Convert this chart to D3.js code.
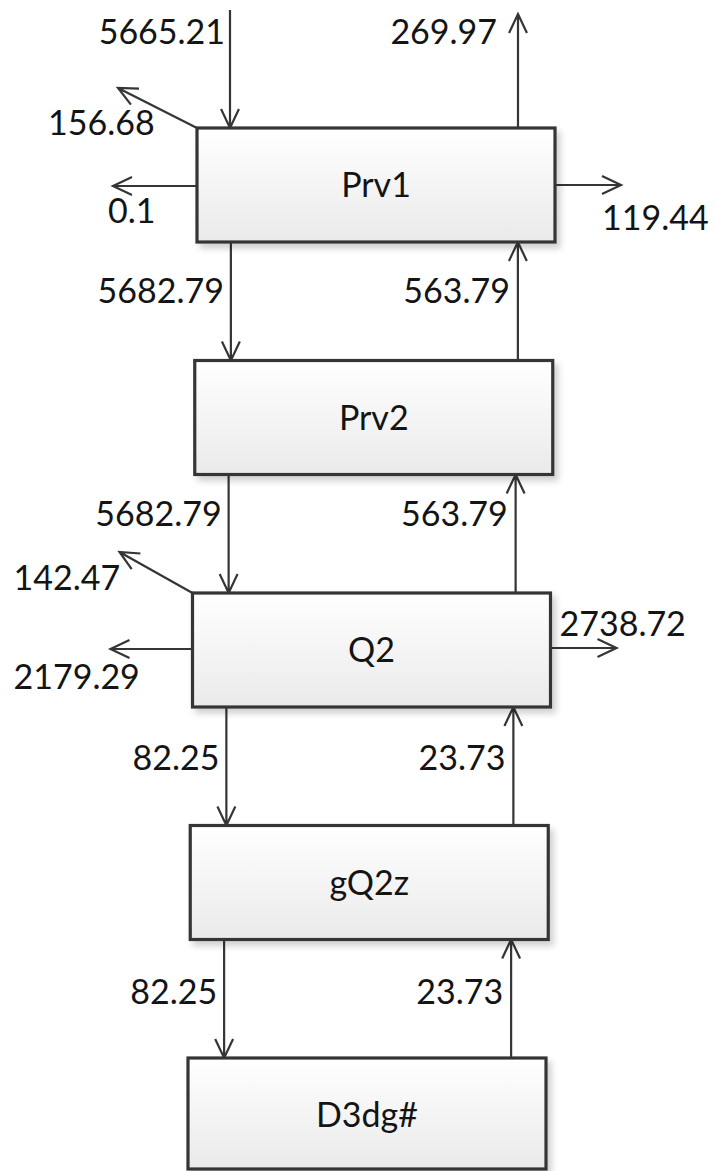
<!DOCTYPE html>
<html>
<head>
<meta charset="utf-8">
<script src="https://cdn.jsdelivr.net/npm/d3@7"></script>
<style>
  body { margin: 0; background: #fff; }
  text { font-family: Lato, "Open Sans", sans-serif; fill: #141414; }
</style>
</head>
<body>
<div id="flow"></div>
<script>
var svgWidth = 715;
var svgHeight = 1171;

// ================= data =============
var nodes = ["Prv1", "Prv2", "Q2", "gQ2z", "D3dg#"];
// flows between node i and node i+1
var downFlows = [5682.79, 5682.79, 82.25, 82.25];
var upFlows = [563.79, 563.79, 23.73, 23.73];
// feed and overhead of the first node
var feedIn = 5665.21;
var topOut = 269.97;
// side streams of the nodes that have them
var sideNodes = ["Prv1", "Q2"];
var diagOut = [156.68, 142.47];
var leftOut = [0.1, 2179.29];
var rightOut = [119.44, 2738.72];

// ================= layout =============
var boxW = 358;
var boxH = 114;
var fontSize = 34;
// vertical nudge of the labels in each gap
var gapNudge = [0, -10, 2, 3];

// label offsets for the side streams (relative to box corners / centre)
var sideLayout = {
  "Prv1": { diag: [-79, -40], diagLabel: [-149, 7], leftY: 1, leftLen: 84, leftLabel: [-89, 38],
            rightY: 0, rightLen: 66, rightLabel: [47, 45] },
  "Q2": { diag: [-73, -41], diagLabel: [-179, -3], leftY: -1, leftLen: 82, leftLabel: [-179, 39],
          rightY: -2, rightLen: 66, rightLabel: [9, -14] }
};

var svg = d3.select("#flow")
  .append("svg")
  .attr("width", svgWidth)
  .attr("height", svgHeight);

var defs = svg.append("defs");

var grad = defs.append("linearGradient")
  .attr("id", "boxFill")
  .attr("x1", 0).attr("y1", 0)
  .attr("x2", 0).attr("y2", 1);
grad.append("stop").attr("offset", "0%").attr("stop-color", "#ffffff");
grad.append("stop").attr("offset", "100%").attr("stop-color", "#eaeaea");

var shadow = defs.append("filter")
  .attr("id", "shadow")
  .attr("x", "-10%").attr("y", "-10%")
  .attr("width", "130%").attr("height", "140%");
shadow.append("feDropShadow")
  .attr("dx", 4).attr("dy", 5)
  .attr("stdDeviation", 3)
  .attr("flood-color", "#000")
  .attr("flood-opacity", 0.18);

// scales: vertical position of each box, slight drift of the left edge
var yScale = d3.scalePoint()
  .domain(nodes)
  .range([128, 1058]);

var xScale = d3.scaleLinear()
  .domain([0, nodes.length - 1])
  .range([197, 188]);

function boxLeft(name) {
  return xScale(nodes.indexOf(name));
}

function boxHeight(name) {
  return Math.min(boxH, svgHeight - 2 - yScale(name));
}

// open "V" arrow from (x1,y1) to tip (x2,y2)
function arrowPath(x1, y1, x2, y2) {
  var p = d3.path();
  var ang = Math.atan2(y1 - y2, x1 - x2);
  var len = 21, spread = 0.44;
  p.moveTo(x1, y1);
  p.lineTo(x2, y2);
  p.moveTo(x2 + len * Math.cos(ang - spread), y2 + len * Math.sin(ang - spread));
  p.lineTo(x2, y2);
  p.lineTo(x2 + len * Math.cos(ang + spread), y2 + len * Math.sin(ang + spread));
  return p.toString();
}

var arrowGroup = svg.append("g")
  .attr("fill", "none")
  .attr("stroke", "#353535")
  .attr("stroke-width", 2.2);

var labelGroup = svg.append("g")
  .attr("font-size", fontSize);

// ================= boxes =============
var boxes = svg.append("g")
  .selectAll("g")
  .data(nodes)
  .enter()
  .append("g");

boxes.append("rect")
  .attr("x", d => boxLeft(d))
  .attr("y", d => yScale(d))
  .attr("width", boxW)
  .attr("height", d => boxHeight(d))
  .attr("fill", "url(#boxFill)")
  .attr("stroke", "#353535")
  .attr("stroke-width", 3.2)
  .attr("filter", "url(#shadow)");

boxes.append("text")
  .attr("x", d => boxLeft(d) + boxW / 2)
  .attr("y", d => yScale(d) + boxH / 2 + 12)
  .attr("text-anchor", "middle")
  .attr("font-size", fontSize)
  .text(d => d);

// ================= flows between boxes =============
var links = d3.range(nodes.length - 1).map(function(i) {
  var top = nodes[i], bottom = nodes[i + 1];
  var lx = (boxLeft(top) + boxLeft(bottom)) / 2;
  var y0 = yScale(top) + boxH;
  var y1 = yScale(bottom);
  return { down: downFlows[i], up: upFlows[i], lx: lx, y0: y0, y1: y1, nudge: gapNudge[i] };
});

links.forEach(function(l) {
  var downX = l.lx + 35;
  var upX = l.lx + 322;
  var midY = (l.y0 + l.y1) / 2 + 2 + l.nudge;

  arrowGroup.append("path").attr("d", arrowPath(downX, l.y0, downX, l.y1));
  arrowGroup.append("path").attr("d", arrowPath(upX, l.y1, upX, l.y0));

  labelGroup.append("text")
    .attr("x", downX - 7)
    .attr("y", midY)
    .attr("text-anchor", "end")
    .text(l.down);

  labelGroup.append("text")
    .attr("x", upX - 8)
    .attr("y", midY)
    .attr("text-anchor", "end")
    .text(l.up);
});

// ================= feed and overhead of first box =============
var first = nodes[0];
var fx = boxLeft(first);
var fy = yScale(first);

arrowGroup.append("path").attr("d", arrowPath(fx + 33, 10, fx + 33, fy));
labelGroup.append("text")
  .attr("x", fx + 28)
  .attr("y", 44)
  .attr("text-anchor", "end")
  .text(feedIn);

arrowGroup.append("path").attr("d", arrowPath(fx + 321, fy, fx + 321, 14));
labelGroup.append("text")
  .attr("x", fx + 300)
  .attr("y", 44)
  .attr("text-anchor", "end")
  .text(topOut);

// ================= side streams =============
sideNodes.forEach(function(name, i) {
  var lay = sideLayout[name];
  var x0 = boxLeft(name);
  var x1 = x0 + boxW;
  var y0 = yScale(name);
  var cy = y0 + boxH / 2;

  // diagonal from top-left corner
  arrowGroup.append("path")
    .attr("d", arrowPath(x0, y0, x0 + lay.diag[0], y0 + lay.diag[1]));
  labelGroup.append("text")
    .attr("x", x0 + lay.diagLabel[0])
    .attr("y", y0 + lay.diagLabel[1])
    .text(diagOut[i]);

  // left
  arrowGroup.append("path")
    .attr("d", arrowPath(x0, cy + lay.leftY, x0 - lay.leftLen, cy + lay.leftY));
  labelGroup.append("text")
    .attr("x", x0 + lay.leftLabel[0])
    .attr("y", cy + lay.leftLabel[1])
    .text(leftOut[i]);

  // right
  arrowGroup.append("path")
    .attr("d", arrowPath(x1, cy + lay.rightY, x1 + lay.rightLen, cy + lay.rightY));
  labelGroup.append("text")
    .attr("x", x1 + lay.rightLabel[0])
    .attr("y", cy + lay.rightLabel[1])
    .text(rightOut[i]);
});
</script>
</body>
</html>
